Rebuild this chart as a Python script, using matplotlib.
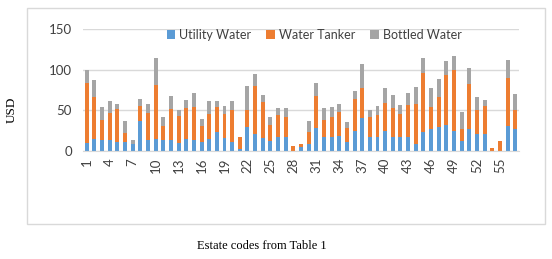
import numpy as np
import matplotlib
matplotlib.use('Agg')
import matplotlib.pyplot as plt
from matplotlib.patches import Rectangle

estates = np.arange(1, 58)
utility = [10, 15, 13, 14, 11, 11, 8, 37, 14, 15, 13, 14, 10, 15, 14, 11, 15, 23, 16, 11,
           3, 30, 21, 16, 12, 17, 17, 0, 4.5, 9, 28, 17, 17, 18, 11, 25, 41, 17, 17, 24,
           17, 17, 17, 9, 23, 27, 30, 32, 25, 12, 27, 21, 21, 0, 0, 31, 27]
tanker = [73, 52, 25, 33, 41, 11, 0, 18, 33, 66, 18, 38, 33, 38, 40, 20, 30, 31, 29, 39,
          14, 21, 59, 44, 20, 27, 25, 6, 4, 14, 40, 21, 25, 30, 17, 39, 36, 25, 27, 35,
          36, 28, 39, 49, 73, 27, 37, 61, 74, 15, 55, 29, 34, 4, 12, 59, 24]
bottled = [16, 20, 16, 15, 6, 15, 5, 9, 11, 33, 11, 16, 8, 10, 17, 8, 16, 8, 10, 12,
           0, 29, 15, 9, 10, 9, 11, 0, 0, 14, 15, 15, 12, 10, 8, 10, 30, 9, 11, 18,
           16, 11, 15, 21, 18, 23, 21, 18, 18, 21, 20, 17, 8, 0, 0, 22, 19]
series_names = ['Utility Water', 'Water Tanker', 'Bottled Water']
tick_labels = [str(i) for i in range(1, 56, 3)]

utility = np.array(utility)
tanker = np.array(tanker)
bottled = np.array(bottled)

plt.rcParams['font.family'] = ['Lato', 'DejaVu Sans']

W, H = 552, 259
fig = plt.figure(figsize=(W / 100, H / 100), dpi=100)
ax = fig.add_axes([83 / W, (H - 151) / H, (519 - 83) / W, (151 - 29) / H])

cols = ['#5B9BD5', '#ED7D31', '#A5A5A5']
w = 0.52
b1 = ax.bar(estates, utility, w, color=cols[0], label=series_names[0], zorder=2)
b2 = ax.bar(estates, tanker, w, bottom=utility, color=cols[1], label=series_names[1], zorder=2)
b3 = ax.bar(estates, bottled, w, bottom=utility + tanker, color=cols[2], label=series_names[2], zorder=2)

ax.set_xlim(0.5, 57.5)
ax.set_ylim(0, 150)
ax.set_yticks([0, 50, 100, 150])
ax.grid(axis='y', color='#D9D9D9', linewidth=1, zorder=0)
for s in ['top', 'right', 'left']:
    ax.spines[s].set_visible(False)
ax.spines['bottom'].set_color('#D9D9D9')
ax.set_xticks(range(1, 56, 3))
ax.set_xticklabels(tick_labels, rotation=90)
ax.tick_params(axis='both', length=0, colors='#404040', labelsize=9.5)
ax.tick_params(axis='y', pad=8)
ax.tick_params(axis='x', pad=5)

fig.legend(handles=[b1, b2, b3], loc='center', bbox_to_anchor=(314 / W, (H - 35) / H),
           ncol=3, frameon=False, fontsize=9, handlelength=0.7, handleheight=0.7,
           handletextpad=0.3, columnspacing=1.2, labelcolor='#404040')

fig.text(12 / W, (H - 110) / H, 'USD', rotation=90, ha='center', va='center',
         family='Liberation Serif', fontsize=9.5)
fig.text(262 / W, (H - 246) / H, 'Estate codes from Table 1', ha='center', va='center',
         family='Liberation Serif', fontsize=9)

fig.patches.append(Rectangle((27 / W, (H - 224) / H), (545 - 27) / W, (224 - 8) / H,
                             transform=fig.transFigure, fill=False, edgecolor='#D9D9D9',
                             linewidth=1))

fig.savefig('out.png', dpi=100)
